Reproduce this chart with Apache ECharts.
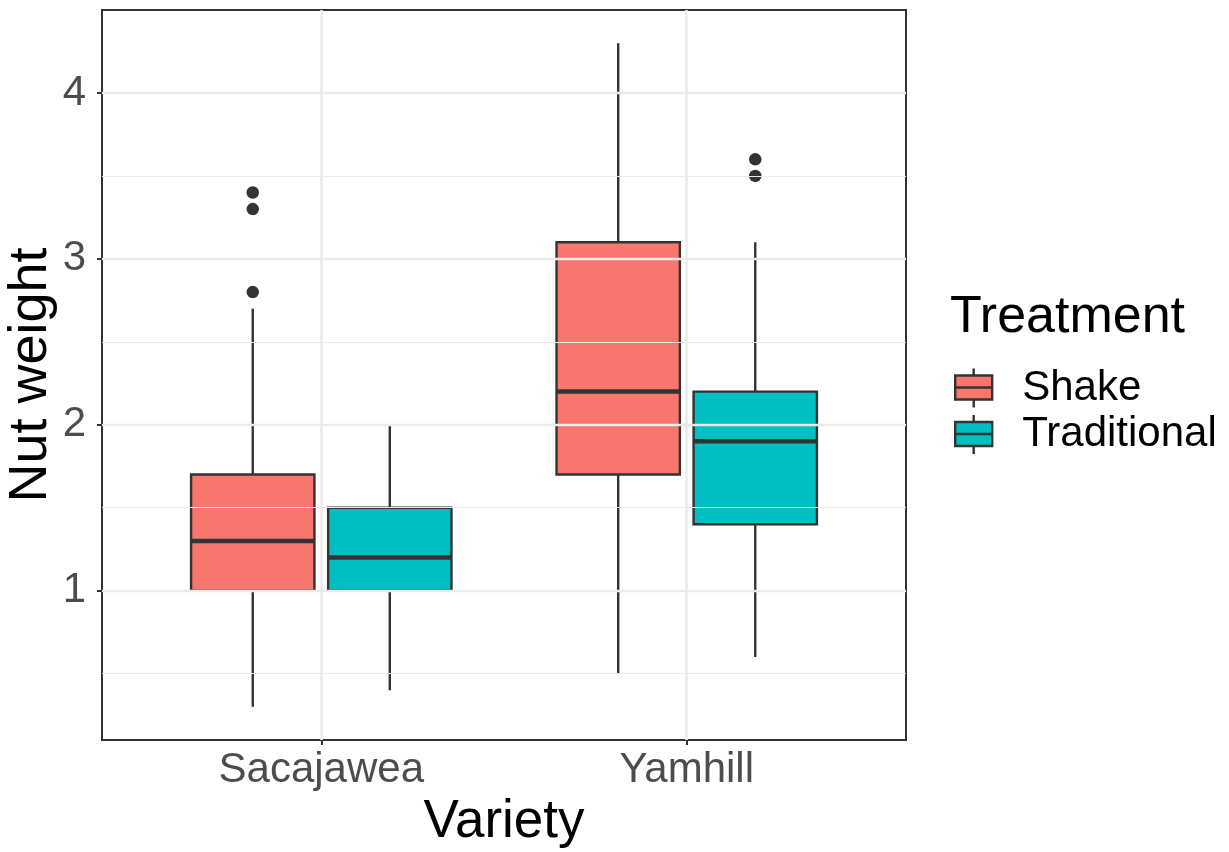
<!DOCTYPE html>
<html>
<head>
<meta charset="utf-8">
<script src="https://cdn.jsdelivr.net/npm/echarts@6/dist/echarts.min.js"></script>
<style>
  html, body { margin: 0; padding: 0; background: #ffffff; }
  #chart { width: 1229px; height: 852px; }
</style>
</head>
<body>
<div id="chart"></div>
<script>
// ---- data ----
const categories = ['Sacajawea', 'Yamhill'];
const treatments = ['Shake', 'Traditional'];
// [lower whisker, Q1, median, Q3, upper whisker] per category
const shakeStats = [[0.3, 1.0, 1.3, 1.7, 2.7], [0.5, 1.7, 2.2, 3.1, 4.3]];
const traditionalStats = [[0.4, 1.0, 1.2, 1.5, 2.0], [0.6, 1.4, 1.9, 2.2, 3.1]];
const shakeOutliers = [[2.8, 3.3, 3.4], []];
const traditionalOutliers = [[], [3.5, 3.6]];
const yTicks = [1, 2, 3, 4];
const yMinorTicks = [0.5, 1.5, 2.5, 3.5];
const xTicks = [1, 2];

// ---- layout / style ----
const FONT = "'Liberation Sans', Arial, Helvetica, sans-serif";
const COLORS = ['#F8766D', '#00BFC4'];
const DODGE = 0.1875;
const HALF = 0.16875;
const INK = '#333333';
const LW = 2.4;

const statsList = [shakeStats, traditionalStats];
const outlierList = [shakeOutliers, traditionalOutliers];
const offsets = [-DODGE, DODGE];

function makeRender(offset, color) {
  return function (params, api) {
    const x = api.value(0) + offset;
    const lo = api.value(1), q1 = api.value(2), md = api.value(3), q3 = api.value(4), hi = api.value(5);
    const tl = api.coord([x - HALF, q3]);
    const br = api.coord([x + HALF, q1]);
    const pLo = api.coord([x, lo]), pQ1 = api.coord([x, q1]);
    const pQ3 = api.coord([x, q3]), pHi = api.coord([x, hi]);
    const mL = api.coord([x - HALF, md]), mR = api.coord([x + HALF, md]);
    return {
      type: 'group',
      children: [
        { type: 'line', shape: { x1: pHi[0], y1: pHi[1], x2: pQ3[0], y2: pQ3[1] }, style: { stroke: INK, lineWidth: LW } },
        { type: 'line', shape: { x1: pQ1[0], y1: pQ1[1], x2: pLo[0], y2: pLo[1] }, style: { stroke: INK, lineWidth: LW } },
        { type: 'rect', shape: { x: tl[0], y: tl[1], width: br[0] - tl[0], height: br[1] - tl[1] },
          style: { fill: color, stroke: INK, lineWidth: LW } },
        { type: 'line', shape: { x1: mL[0], y1: mL[1], x2: mR[0], y2: mR[1] }, style: { stroke: INK, lineWidth: 4.5 } }
      ]
    };
  };
}

const series = [];
// gridlines
series.push({
  type: 'line', data: [], z: 1, silent: true, animation: false,
  markLine: {
    silent: true, symbol: 'none', animation: false, label: { show: false },
    data: []
      .concat(yMinorTicks.map(v => ({ yAxis: v, lineStyle: { color: '#EBEBEB', width: 1.2, type: 'solid' } })))
      .concat(yTicks.map(v => ({ yAxis: v, lineStyle: { color: '#EBEBEB', width: 2.4, type: 'solid' } })))
      .concat(xTicks.map(v => ({ xAxis: v, lineStyle: { color: '#EBEBEB', width: 2.6, type: 'solid' } })))
  }
});
treatments.forEach((t, k) => {
  series.push({
    name: t, type: 'custom', z: 3, animation: false,
    renderItem: makeRender(offsets[k], COLORS[k]),
    itemStyle: { color: COLORS[k] },
    data: categories.map((c, i) => [i + 1].concat(statsList[k][i]))
  });
  const pts = [];
  categories.forEach((c, i) => outlierList[k][i].forEach(v => pts.push([i + 1 + offsets[k], v])));
  series.push({
    name: t, type: 'scatter', z: 4, animation: false, symbolSize: 12.5,
    itemStyle: { color: INK, opacity: 1 }, data: pts
  });
});

const KEY_PATH = 'path://M18.5,0 L18.5,7 M0,7 L37,7 L37,31 L0,31 Z M18.5,31 L18.5,39 M0,19 L37,19';

const chart = echarts.init(document.getElementById('chart'), null, { renderer: 'canvas' });
chart.setOption({
  backgroundColor: '#ffffff',
  animation: false,
  textStyle: { fontFamily: FONT },
  title: {
    text: 'Treatment', left: 950, top: 292, padding: 0,
    textStyle: { fontSize: 52, fontWeight: 'normal', color: '#000000', fontFamily: FONT }
  },
  legend: {
    orient: 'vertical', left: 954, top: 367, padding: 0, itemGap: 4.5,
    itemWidth: 37, itemHeight: 39, selectedMode: false,
    textStyle: { fontSize: 42, color: '#000000', fontFamily: FONT, padding: [0, 0, 0, 25] },
    data: treatments.map((t, k) => ({
      name: t, icon: KEY_PATH,
      itemStyle: { color: COLORS[k], borderColor: INK, borderWidth: LW }
    }))
  },
  grid: {
    left: 102, top: 10, width: 804, height: 730,
    show: true, borderColor: INK, borderWidth: 2, backgroundColor: 'transparent',
    containLabel: false, outerBoundsMode: 'none'
  },
  xAxis: {
    type: 'value', min: 0.4, max: 2.6,
    name: 'Variety', nameLocation: 'middle', nameGap: 53,
    nameTextStyle: { fontSize: 53, color: '#000000', fontFamily: FONT },
    axisLine: { show: false },
    axisTick: { show: true, customValues: xTicks, length: 5, lineStyle: { color: INK, width: 2 } },
    axisLabel: {
      customValues: xTicks, margin: 9, fontSize: 42, color: '#4D4D4D', fontFamily: FONT,
      formatter: v => categories[Math.round(v) - 1]
    },
    splitLine: { show: false }
  },
  yAxis: {
    type: 'value', min: 0.1, max: 4.5,
    name: 'Nut weight', nameLocation: 'middle', nameGap: 44, nameRotate: 90,
    nameMoveOverlap: false,
    nameTextStyle: { fontSize: 54, color: '#000000', fontFamily: FONT },
    axisLine: { show: false },
    axisTick: { show: true, customValues: yTicks, length: 5, lineStyle: { color: INK, width: 2 } },
    axisLabel: {
      customValues: yTicks, margin: 16, fontSize: 42, color: '#4D4D4D', fontFamily: FONT,
      formatter: v => String(v)
    },
    splitLine: { show: false }
  },
  series: series
});
</script>
</body>
</html>
